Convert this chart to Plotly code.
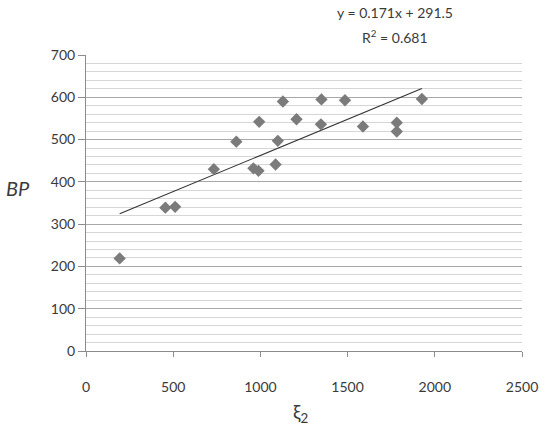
import plotly.graph_objects as go

# data
xi2 = [193, 455, 511, 733, 862, 993, 960, 989, 1129, 1087, 1100, 1207, 1350, 1347, 1485, 1588, 1782, 1782, 1926]
bp = [219, 339, 341, 430, 495, 542, 432, 426, 590, 441, 497, 548, 595, 536, 593, 531, 540, 519, 596]
slope = 0.171
intercept = 291.5
r2 = 0.681
x_ticks = [0, 500, 1000, 1500, 2000, 2500]
y_ticks = [0, 100, 200, 300, 400, 500, 600, 700]

xmin, xmax = min(xi2), max(xi2)
trend_x = [xmin, xmax]
trend_y = [slope * v + intercept for v in trend_x]

fig = go.Figure()
fig.add_trace(go.Scatter(x=trend_x, y=trend_y, mode="lines",
                         line=dict(color="#333333", width=1.1), showlegend=False, hoverinfo="skip"))
fig.add_trace(go.Scatter(x=xi2, y=bp, mode="markers",
                         marker=dict(symbol="diamond", size=9.5, color="#7b7b7b"), showlegend=False))

font_family = "Lato, 'Open Sans', sans-serif"
txt = "#3a3a3a"
fig.update_layout(
    width=550, height=434,
    margin=dict(l=86, r=24, t=55, b=83),
    paper_bgcolor="white", plot_bgcolor="white",
    font=dict(family=font_family, color=txt, size=14),
    xaxis=dict(range=[0, 2500], tickvals=x_ticks, showgrid=False, zeroline=False,
               showline=True, linecolor="#8c8c8c", linewidth=1,
               ticks="outside", ticklen=5, tickcolor="#8c8c8c",
               ticklabelstandoff=18, tickfont=dict(size=14, color=txt)),
    yaxis=dict(range=[0, 700], tickvals=y_ticks, showgrid=True, gridcolor="#a8a8a8", gridwidth=1,
               zeroline=False, showline=True, linecolor="#8c8c8c", linewidth=1,
               ticks="outside", ticklen=7, tickcolor="#8c8c8c",
               tickfont=dict(size=14, color=txt),
               minor=dict(dtick=20, showgrid=True, gridcolor="#d6d6d6", gridwidth=1)),
    annotations=[
        dict(text=f"y = {slope}x + {intercept}", xref="paper", yref="paper",
             x=0.709, y=1.142, xanchor="center", yanchor="middle", showarrow=False,
             font=dict(size=14, color=txt)),
        dict(text=f"R<sup>2</sup> = {r2}", xref="paper", yref="paper",
             x=0.709, y=1.061, xanchor="center", yanchor="middle", showarrow=False,
             font=dict(size=14, color=txt)),
        dict(text="<i>BP</i>", xref="paper", yref="paper", x=-0.157, y=0.55,
             xanchor="center", yanchor="middle", showarrow=False,
             font=dict(size=20, color=txt)),
        dict(text="ξ<sub>2</sub>", xref="paper", yref="paper", x=0.492, y=-0.21,
             xanchor="center", yanchor="middle", showarrow=False,
             font=dict(size=19, color=txt)),
    ],
)

fig.write_html("out.html", config={"displayModeBar": False},
               post_script="document.body.style.margin='0px';")
